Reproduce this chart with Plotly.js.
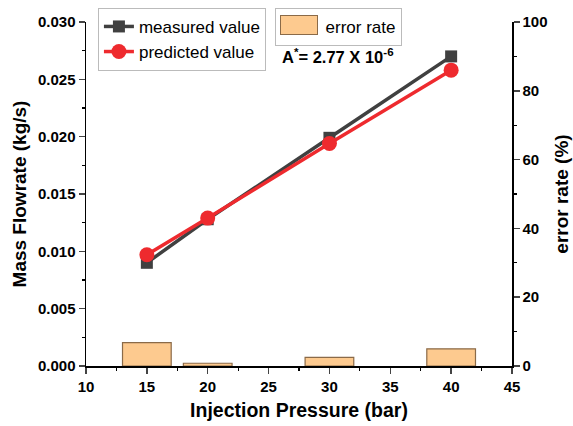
<!DOCTYPE html>
<html><head><meta charset="utf-8">
<script src="https://cdn.plot.ly/plotly-3.0.1.min.js"></script>
<style>body{margin:0;background:#fff}#c{width:573px;height:426px}</style>
</head><body><div id="c"></div>
<script>
const pressure = [15, 20, 30, 40];
const measured = [0.0090, 0.0128, 0.0199, 0.0270];
const predicted = [0.0097, 0.0129, 0.0194, 0.0258];
const errorRate = [6.8, 0.8, 2.5, 5.0];

const F = 'Liberation Sans, Arial, sans-serif';
const barColor = '#FDCA8F', barLine = '#8a6a48';
const traces = [
  {x: pressure, y: errorRate, type: 'bar', name: '\u00A0\u00A0error rate', yaxis: 'y2', width: 4,
   marker: {color: barColor, line: {color: barLine, width: 1.2}}, legend: 'legend2'},
  {x: pressure, y: measured, type: 'scatter', mode: 'lines+markers', name: 'measured value',
   line: {color: '#404040', width: 3.5}, marker: {symbol: 'square', size: 12, color: '#404040'}},
  {x: pressure, y: predicted, type: 'scatter', mode: 'lines+markers', name: 'predicted value',
   line: {color: '#EE2A2E', width: 3.5}, marker: {symbol: 'circle', size: 15, color: '#EE2A2E'}}
];
const axFont = {family: F, size: 15, color: '#000', weight: 'bold'};
const titleFont = {family: F, size: 19, color: '#000', weight: 'bold'};
const layout = {
  width: 573, height: 426,
  margin: {l: 86, r: 61, t: 22, b: 60, autoexpand: false},
  paper_bgcolor: '#fff', plot_bgcolor: '#fff',
  font: {family: F, color: '#000'},
  xaxis: {range: [10, 45], dtick: 5, tick0: 10, showgrid: false, zeroline: false,
    showline: true, linecolor: '#000', linewidth: 1.5, ticks: 'outside', ticklen: 6, tickwidth: 1.5,
    tickfont: axFont, minor: {ticks: 'outside', dtick: 2.5, ticklen: 3, tickwidth: 1.2, tickcolor: '#000'},
    title: {text: 'Injection Pressure (bar)', font: {...titleFont, size: 19.5}, standoff: 10}},
  yaxis: {range: [0, 0.030], dtick: 0.005, tickformat: '.3f', showgrid: false, zeroline: false,
    showline: true, linecolor: '#000', linewidth: 1.5, ticks: 'outside', ticklen: 6, tickwidth: 1.5,
    tickfont: axFont, minor: {ticks: 'outside', dtick: 0.0025, ticklen: 3, tickwidth: 1.2, tickcolor: '#000'},
    title: {text: 'Mass Flowrate (kg/s)', font: titleFont, standoff: 6}},
  yaxis2: {overlaying: 'y', side: 'right', range: [0, 100], dtick: 20, showgrid: false, zeroline: false,
    showline: true, linecolor: '#000', linewidth: 1.5, ticks: 'outside', ticklen: 6, tickwidth: 1.5,
    tickfont: axFont, minor: {ticks: 'outside', dtick: 10, ticklen: 3, tickwidth: 1.2, tickcolor: '#000'},
    title: {text: 'error rate (%)', font: titleFont, standoff: 8}},
  showlegend: true,
  legend: {x: 0.028, y: 1.041, xanchor: 'left', yanchor: 'top', bgcolor: '#fff',
    bordercolor: '#bbb', borderwidth: 1, font: {family: F, size: 17, color: '#000'},
    tracegroupgap: 0},
  legend2: {x: 0.444, y: 1.041, xanchor: 'left', yanchor: 'top', bgcolor: '#fff',
    bordercolor: '#bbb', borderwidth: 1, font: {family: F, size: 17, color: '#000'}},
  annotations: [
    {xref: 'paper', yref: 'paper', x: 0.455, y: 0.90, xanchor: 'left', yanchor: 'middle',
     showarrow: false, text: 'A<sup>*</sup>= 2.77 X 10<sup>-6</sup>',
     font: {family: F, size: 16.5, color: '#000', weight: 'bold'}},
    {xref: 'paper', yref: 'paper', x: 0.455, y: 0.991, xanchor: 'left', yanchor: 'middle',
     showarrow: false, text: ' ', width: 36, height: 18, borderpad: 0,
     bgcolor: barColor, bordercolor: barLine, borderwidth: 1}
  ]
};
Plotly.newPlot('c', traces, layout, {displayModeBar: false, staticPlot: true});
</script></body></html>
